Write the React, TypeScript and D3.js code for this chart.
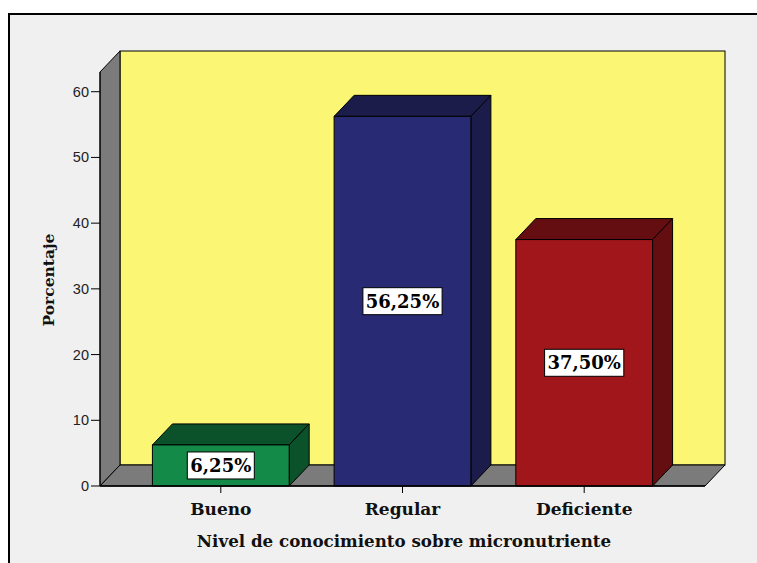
import React from "react";
import * as d3 from "d3";

const categories = ["Bueno", "Regular", "Deficiente"];
const percentages = [6.25, 56.25, 37.5];
const valueLabels = ["6,25%", "56,25%", "37,50%"];
const yTicks = [0, 10, 20, 30, 40, 50, 60];

const frontColors = ["#138a47", "#282b73", "#a0161b"];
const shadeColors = ["#0b5129", "#1b1c4a", "#640e12"];

const W = 757;
const H = 563;
const left = 100;
const right = 705;
const bottom = 486;
const top = 72;
const dx = 20;
const dy = 21;

export default function App() {
  const y = d3.scaleLinear().domain([0, 63]).range([bottom, top]);
  const x = d3
    .scaleBand<string>()
    .domain(categories)
    .range([left, right])
    .paddingInner(0.2473)
    .paddingOuter(0.2885);

  const labelFont = "'DejaVu Serif', serif";
  const pts = (p: [number, number][]) => p.map((q) => q.join(",")).join(" ");

  return (
    <svg
      width={W}
      height={H}
      style={{ position: "absolute", left: 0, top: 0, display: "block" }}
    >
      <rect x={0} y={0} width={W} height={H} fill="#ffffff" />
      <rect x={9} y={14} width={800} height={600} fill="#f0f0f0" stroke="#000" strokeWidth={2} />

      {/* back wall */}
      <rect
        x={left + dx}
        y={top - dy}
        width={right - left}
        height={bottom - top}
        fill="#fbf774"
        stroke="#000"
        strokeWidth={1}
      />
      {/* side wall */}
      <polygon
        points={pts([
          [left, bottom],
          [left, top],
          [left + dx, top - dy],
          [left + dx, bottom - dy],
        ])}
        fill="#7b7b7b"
        stroke="#000"
        strokeWidth={1}
      />
      {/* floor */}
      <polygon
        points={pts([
          [left, bottom],
          [left + dx, bottom - dy],
          [right + dx, bottom - dy],
          [right, bottom],
        ])}
        fill="#7b7b7b"
        stroke="#000"
        strokeWidth={1}
      />

      {/* bars */}
      {categories.map((c, i) => {
        const x0 = x(c)!;
        const x1 = x0 + x.bandwidth();
        const yt = y(percentages[i]);
        return (
          <g key={c} stroke="#000" strokeWidth={1} strokeLinejoin="round">
            <polygon
              points={pts([
                [x0, yt],
                [x0 + dx, yt - dy],
                [x1 + dx, yt - dy],
                [x1, yt],
              ])}
              fill={shadeColors[i]}
            />
            <polygon
              points={pts([
                [x1, yt],
                [x1 + dx, yt - dy],
                [x1 + dx, bottom - dy],
                [x1, bottom],
              ])}
              fill={shadeColors[i]}
            />
            <rect x={x0} y={yt} width={x1 - x0} height={bottom - yt} fill={frontColors[i]} />
          </g>
        );
      })}

      {/* value labels */}
      {categories.map((c, i) => {
        const cx = x(c)! + x.bandwidth() / 2;
        const cy = (y(percentages[i]) + bottom) / 2;
        const w = valueLabels[i].length * 12.2 + 6;
        return (
          <g key={c + "-lbl"}>
            <rect
              x={cx - w / 2}
              y={cy - 13.5}
              width={w}
              height={27}
              fill="#fff"
              stroke="#000"
              strokeWidth={1}
            />
            <text
              x={cx}
              y={cy + 6.5}
              textAnchor="middle"
              fontFamily={labelFont}
              fontWeight="bold"
              fontSize={18}
              fill="#000"
            >
              {valueLabels[i]}
            </text>
          </g>
        );
      })}

      {/* y axis */}
      <line x1={left} x2={left} y1={bottom} y2={top} stroke="#000" />
      {yTicks.map((t) => (
        <g key={t}>
          <line x1={left - 9} x2={left} y1={y(t)} y2={y(t)} stroke="#000" />
          <text
            x={left - 11}
            y={y(t) + 5}
            textAnchor="end"
            fontFamily="'Liberation Sans', Arial, sans-serif"
            fontSize={14.5}
            fill="#222"
          >
            {t}
          </text>
        </g>
      ))}

      {/* x axis */}
      <line x1={left} x2={right} y1={bottom} y2={bottom} stroke="#000" strokeWidth={1.5} />
      {categories.map((c) => {
        const cx = x(c)! + x.bandwidth() / 2;
        return (
          <g key={c + "-tick"}>
            <line x1={cx} x2={cx} y1={bottom} y2={bottom + 7} stroke="#000" />
            <text
              x={cx}
              y={515}
              textAnchor="middle"
              fontFamily={labelFont}
              fontWeight="bold"
              fontSize={17}
              fill="#111"
            >
              {c}
            </text>
          </g>
        );
      })}

      <text
        x={404}
        y={547}
        textAnchor="middle"
        fontFamily={labelFont}
        fontWeight="bold"
        fontSize={16.7}
        fill="#111"
      >
        Nivel de conocimiento sobre micronutriente
      </text>
      <text
        transform={`translate(54, ${(top + bottom) / 2 + 1}) rotate(-90)`}
        textAnchor="middle"
        fontFamily={labelFont}
        fontWeight="bold"
        fontSize={15.5}
        fill="#111"
      >
        Porcentaje
      </text>
    </svg>
  );
}
